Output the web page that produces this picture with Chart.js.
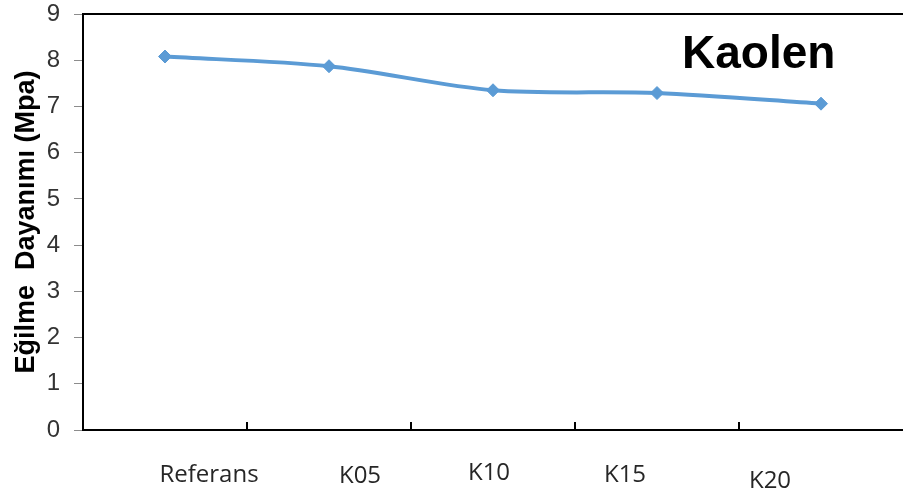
<!DOCTYPE html>
<html>
<head>
<meta charset="utf-8">
<script src="https://cdn.jsdelivr.net/npm/chart.js@4/dist/chart.umd.min.js"></script>
<style>
  html, body { margin: 0; padding: 0; background: #ffffff; }
  #wrap { width: 903px; height: 497px; position: relative; }
</style>
</head>
<body>
<div id="wrap"><canvas id="c"></canvas></div>
<script>
// Flexural strength by kaolin replacement level
const categories = ['Referans', 'K05', 'K10', 'K15', 'K20'];
const strength = [8.08, 7.87, 7.35, 7.29, 7.06];
const yTickValues = [0, 1, 2, 3, 4, 5, 6, 7, 8, 9];
const yTitle = 'Eğilme  Dayanımı (Mpa)';
const chartLabel = 'Kaolen';

// placement of the category captions below the axis (px from category centre / axis line)
const captionDx = [44, 31, -4, -32, -51];
const captionDy = [52, 53, 50, 52, 58];

const lineColor = '#5B9BD5';

function noScalePadding(scale) {
  scale.paddingTop = 0;
  scale.paddingBottom = 0;
  scale.paddingLeft = 0;
  scale.paddingRight = 0;
}

const frameAndCaptions = {
  id: 'frameAndCaptions',
  afterDraw(chart) {
    const { ctx, chartArea } = chart;
    const x = chart.scales.x;
    ctx.save();
    // top edge of the plot frame
    ctx.strokeStyle = '#000';
    ctx.lineWidth = 2;
    ctx.beginPath();
    ctx.moveTo(chartArea.left, chartArea.top);
    ctx.lineTo(chartArea.right, chartArea.top);
    ctx.stroke();
    // category boundary ticks, pointing up into the plot
    for (let i = 1; i < categories.length; i++) {
      const px = Math.round(x.getPixelForValue(i - 0.5));
      ctx.beginPath();
      ctx.moveTo(px, chartArea.bottom);
      ctx.lineTo(px, chartArea.bottom - 8);
      ctx.stroke();
    }
    // category captions
    ctx.fillStyle = '#262626';
    ctx.font = '24px "Open Sans", sans-serif';
    ctx.textAlign = 'center';
    ctx.textBaseline = 'alphabetic';
    categories.forEach((c, i) => {
      ctx.fillText(c, x.getPixelForValue(i) + captionDx[i], chartArea.bottom + captionDy[i]);
    });
    // chart label
    ctx.fillStyle = '#000';
    ctx.font = 'bold 46px "Liberation Sans", Arial, sans-serif';
    ctx.textAlign = 'left';
    ctx.fillText(chartLabel, 682, 68);
    ctx.restore();
  }
};

new Chart(document.getElementById('c'), {
  type: 'line',
  data: {
    labels: categories,
    datasets: [{
      data: strength,
      borderColor: lineColor,
      backgroundColor: lineColor,
      borderWidth: 4,
      tension: 0.3,
      pointStyle: 'rectRot',
      pointRadius: 6.5,
      pointBorderWidth: 1,
      pointBackgroundColor: lineColor,
      pointBorderColor: lineColor,
      fill: false,
      clip: false
    }]
  },
  options: {
    responsive: true,
    maintainAspectRatio: false,
    animation: false,
    layout: { autoPadding: false, padding: { top: 14, right: 0, left: 0, bottom: 0 } },
    plugins: { legend: { display: false }, tooltip: { enabled: false } },
    scales: {
      x: {
        type: 'category',
        offset: true,
        grid: { display: false },
        border: { display: true, color: '#000', width: 2 },
        ticks: { display: false },
        afterFit(scale) { scale.height = 67; noScalePadding(scale); }
      },
      y: {
        min: 0,
        max: 9,
        afterBuildTicks(scale) { scale.ticks = yTickValues.map(v => ({ value: v })); },
        grid: { display: true, drawOnChartArea: false, drawTicks: true, tickLength: 9, color: '#8c8c8c', lineWidth: 1 },
        border: { display: true, color: '#000', width: 2 },
        ticks: {
          padding: 14,
          color: '#333',
          font: { family: '"Liberation Sans", Arial, sans-serif', size: 24 }
        },
        title: {
          display: true,
          text: yTitle,
          color: '#000',
          padding: { top: 10, bottom: 0 },
          font: { family: '"Liberation Sans", Arial, sans-serif', size: 27, weight: 'bold' }
        },
        afterFit(scale) { scale.width = 83; noScalePadding(scale); }
      }
    }
  },
  plugins: [frameAndCaptions]
});
</script>
</body>
</html>
